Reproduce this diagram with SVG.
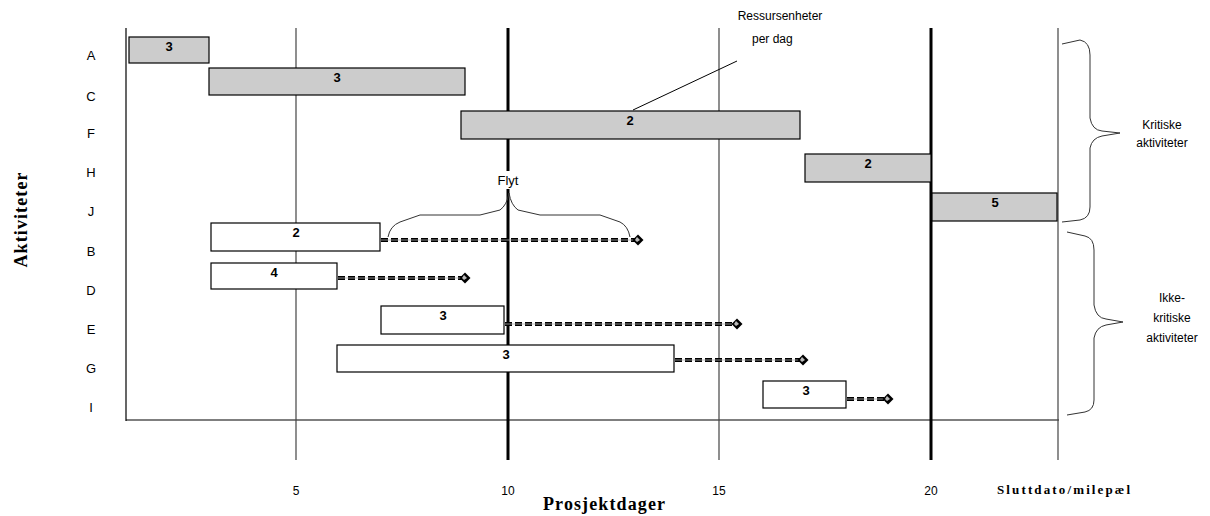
<svg xmlns="http://www.w3.org/2000/svg" width="1210" height="516" viewBox="0 0 1210 516">
<defs>
<marker id="dia" viewBox="0 0 12 12" refX="6" refY="6" markerWidth="12" markerHeight="12" markerUnits="userSpaceOnUse" orient="0">
<path d="M6,0.5 L11.5,6 L6,11.5 L0.5,6 Z" fill="#000"/>
<path d="M5,3 L8,6 L5,8 L3,6 Z" fill="#bbb"/>
</marker>
<style>
.bar{stroke:#000;stroke-width:1.2}
.crit{fill:#cccccc}
.non{fill:#ffffff}
.num{font-family:"Liberation Sans",Arial,sans-serif;font-weight:bold;font-size:13px;text-anchor:middle;fill:#000}
.lbl{font-family:"Liberation Sans",Arial,sans-serif;font-size:13px;text-anchor:middle;fill:#000}
.sm{font-family:"Liberation Sans",Arial,sans-serif;font-size:12px;fill:#000}
.ser{font-family:"Liberation Serif","Times New Roman",serif;font-weight:bold;fill:#000}
.grid{stroke:#444;stroke-width:1.2}
.thick{stroke:#000;stroke-width:3}
.dash{stroke:#000;stroke-width:4;stroke-dasharray:7 3;fill:none}
.dashc{stroke:#aaa;stroke-width:0.8;fill:none}
.brace{fill:none;stroke:#333;stroke-width:1}
</style>
</defs>
<rect width="1210" height="516" fill="#fff"/>
<g id="axes">
<line x1="126" y1="28" x2="126" y2="421" stroke="#000" stroke-width="1.2"/>
<line x1="126" y1="420" x2="1059" y2="420" stroke="#000" stroke-width="1.2"/>
<line class="grid" x1="296" y1="28" x2="296" y2="460"/>
<line class="thick" x1="508" y1="28" x2="508" y2="460"/>
<line class="grid" x1="719" y1="28" x2="719" y2="460"/>
<line class="thick" x1="931" y1="28" x2="931" y2="460"/>
<line class="grid" x1="1058" y1="28" x2="1058" y2="460"/>
<text class="sm" x="296" y="495" text-anchor="middle">5</text>
<text class="sm" x="508" y="495" text-anchor="middle">10</text>
<text class="sm" x="719" y="495" text-anchor="middle">15</text>
<text class="sm" x="931" y="495" text-anchor="middle">20</text>
<text class="ser" x="997" y="494" font-size="13" textLength="133" lengthAdjust="spacing">Sluttdato/milepæl</text>
<text class="ser" x="543" y="510" font-size="18" textLength="122" lengthAdjust="spacing">Prosjektdager</text>
<text class="ser" x="27" y="220" font-size="18" text-anchor="middle" textLength="95" lengthAdjust="spacing" transform="rotate(-90 27 220)">Aktiviteter</text>
</g>
<g id="rowlabels">
<text class="lbl" x="91" y="60">A</text>
<text class="lbl" x="91" y="101">C</text>
<text class="lbl" x="91" y="138">F</text>
<text class="lbl" x="91" y="177">H</text>
<text class="lbl" x="91" y="216">J</text>
<text class="lbl" x="91" y="256">B</text>
<text class="lbl" x="91" y="295">D</text>
<text class="lbl" x="91" y="334">E</text>
<text class="lbl" x="91" y="373">G</text>
<text class="lbl" x="91" y="412">I</text>
</g>
<g id="connectors">
<path class="dash" d="M381,240 H638"/><path class="dashc" d="M381,240 H638" marker-end="url(#dia)"/>
<path class="dash" d="M338,278 H465"/><path class="dashc" d="M338,278 H465" marker-end="url(#dia)"/>
<path class="dash" d="M505,324 H737"/><path class="dashc" d="M505,324 H737" marker-end="url(#dia)"/>
<path class="dash" d="M675,360 H803"/><path class="dashc" d="M675,360 H803" marker-end="url(#dia)"/>
<path class="dash" d="M847,399 H888"/><path class="dashc" d="M847,399 H888" marker-end="url(#dia)"/>
<line x1="633" y1="110" x2="737" y2="61" stroke="#000" stroke-width="1"/>
</g>
<g id="A"><rect class="bar crit" x="129" y="37" width="80" height="26"/><text class="num" x="169" y="51">3</text></g>
<g id="C"><rect class="bar crit" x="209" y="68" width="256" height="27"/><text class="num" x="337" y="82">3</text></g>
<g id="F"><rect class="bar crit" x="461" y="111" width="339" height="28"/><text class="num" x="630" y="125">2</text></g>
<g id="H"><rect class="bar crit" x="805" y="154" width="126" height="28"/><text class="num" x="868" y="168">2</text></g>
<g id="J"><rect class="bar crit" x="932" y="193" width="125" height="28"/><text class="num" x="995" y="207">5</text></g>
<g id="B"><rect class="bar non" x="211" y="223" width="169" height="28"/><text class="num" x="296" y="237">2</text></g>
<g id="D"><rect class="bar non" x="211" y="263" width="126" height="26"/><text class="num" x="274" y="277">4</text></g>
<g id="E"><rect class="bar non" x="381" y="306" width="123" height="28"/><text class="num" x="443" y="320">3</text></g>
<g id="G"><rect class="bar non" x="337" y="345" width="337" height="27"/><text class="num" x="506" y="359">3</text></g>
<g id="I"><rect class="bar non" x="763" y="381" width="83" height="27"/><text class="num" x="806" y="395">3</text></g>
<g id="flyt">
<path class="brace" d="M388,237 Q390,226 400,222 L420,215 H480 L500,210 Q507,205 509,193 Q511,205 518,210 L540,215 H600 L620,222 Q628,226 630,237"/>
<rect x="493" y="171" width="30" height="18" fill="#fff"/>
<text class="lbl" x="508" y="185">Flyt</text>
</g>
<g id="ressurs">
<text class="sm" x="780" y="20" text-anchor="middle">Ressursenheter</text>
<text class="sm" x="752" y="43">per dag</text>
</g>
<g id="kritiske">
<path class="brace" d="M1062,44 L1080,40 Q1090,42 1090,55 V118 Q1092,130 1102,131 L1120,133 L1102,136 Q1092,138 1090,148 V207 Q1090,218 1080,220 L1062,222"/>
<text class="sm" x="1162" y="129" text-anchor="middle">Kritiske</text>
<text class="sm" x="1162" y="147" text-anchor="middle">aktiviteter</text>
</g>
<g id="ikkekritiske">
<path class="brace" d="M1067,232 L1085,236 Q1094,238 1094,250 V305 Q1096,318 1106,319 L1123,322 L1106,325 Q1096,327 1094,338 V400 Q1094,410 1085,412 L1067,415"/>
<text class="sm" x="1172" y="302" text-anchor="middle">Ikke-</text>
<text class="sm" x="1172" y="322" text-anchor="middle">kritiske</text>
<text class="sm" x="1172" y="342" text-anchor="middle">aktiviteter</text>
</g>
</svg>
